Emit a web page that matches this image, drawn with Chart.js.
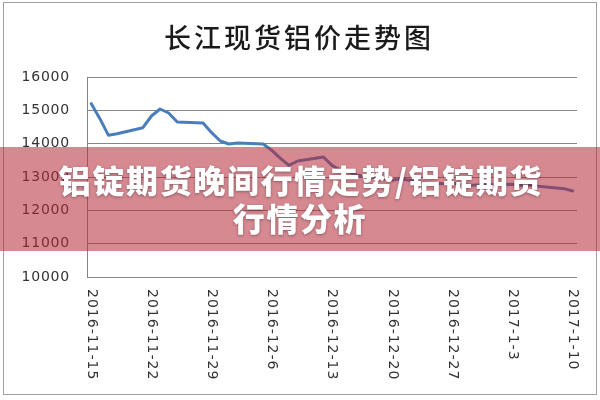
<!DOCTYPE html>
<html>
<head>
<meta charset="utf-8">
<script src="https://cdn.jsdelivr.net/npm/chart.js@4/dist/chart.umd.min.js"></script>
<style>
html,body{margin:0;padding:0;background:#fff;}
canvas{display:block;}
</style>
</head>
<body>
<canvas id="c" width="600" height="400"></canvas>
<script>
const chartTitle = "长江现货铝价走势图";
const bannerLines = ["铝锭期货晚间行情走势/铝锭期货", "行情分析"];
const startDate = "2016-11-15";
const endDate = "2017-1-10";
const tradeDates = [
  "2016-11-15","2016-11-16","2016-11-17","2016-11-18",
  "2016-11-21","2016-11-22","2016-11-23","2016-11-24","2016-11-25",
  "2016-11-28","2016-11-29","2016-11-30","2016-12-1","2016-12-2",
  "2016-12-5","2016-12-6","2016-12-7","2016-12-8","2016-12-9",
  "2016-12-12","2016-12-13","2016-12-14","2016-12-15","2016-12-16",
  "2016-12-19","2016-12-20","2016-12-21","2016-12-22","2016-12-23",
  "2016-12-26","2016-12-27","2016-12-28","2016-12-29","2016-12-30",
  "2017-1-3","2017-1-4","2017-1-5","2017-1-6",
  "2017-1-9","2017-1-10"
];
const prices = [
  15200,14750,14250,14300,
  14480,14830,15040,14920,14650,
  14620,14330,14080,13990,14020,
  13990,13800,13560,13350,13480,
  13600,13350,13200,13150,13050,
  12950,12900,12950,12900,12850,
  12800,12820,12780,12750,12760,
  12780,12750,12760,12720,
  12650,12580
];
const yMin = 10000, yMax = 16000, yStep = 1000;
const labelEvery = 7;

// build calendar-day category labels
function parseD(s){ const p = s.split("-").map(Number); return new Date(Date.UTC(p[0], p[1]-1, p[2])); }
function fmtD(d){ return d.getUTCFullYear()+"-"+(d.getUTCMonth()+1)+"-"+d.getUTCDate(); }
const allDays = [];
for (let d = parseD(startDate); d <= parseD(endDate); d = new Date(d.getTime()+86400000)) allDays.push(fmtD(d));
const series = allDays.map(day => { const i = tradeDates.indexOf(day); return i >= 0 ? prices[i] : null; });

const decor = {
  id: "decor",
  beforeDraw(chart){
    const ctx = chart.ctx;
    ctx.save();
    ctx.fillStyle = "#fff";
    ctx.fillRect(0,0,chart.width,chart.height);
    ctx.restore();
    ctx.letterSpacing = "0.8px";
  },
  afterDraw(chart){
    const ctx = chart.ctx;
    const xs = chart.scales.x;
    ctx.save();
    // title
    ctx.fillStyle = "#1a1a1a";
    ctx.font = '500 27px "Noto Sans CJK SC"';
    ctx.textAlign = "center";
    ctx.textBaseline = "middle";
    ctx.letterSpacing = "3px";
    ctx.fillText(chartTitle, 299, 38);
    // rotated date labels
    ctx.font = '14px "DejaVu Sans"';
    ctx.fillStyle = "#333";
    ctx.letterSpacing = "1px";
    ctx.textAlign = "left";
    ctx.textBaseline = "middle";
    allDays.forEach((lab, i) => {
      if (i % labelEvery !== 0) return;
      const x = xs.getPixelForValue(i);
      ctx.save();
      ctx.translate(x, chart.chartArea.bottom + 12);
      ctx.rotate(Math.PI/2);
      ctx.fillText(lab, 0, 0);
      ctx.restore();
    });
    ctx.letterSpacing = "0px";
    // outer frame
    ctx.strokeStyle = "#a0a0a0";
    ctx.lineWidth = 1;
    ctx.strokeRect(3.5, 2.5, 593, 392);
    // banner overlay
    ctx.fillStyle = "rgba(180,40,55,0.55)";
    ctx.fillRect(0, 147, 600, 104);
    ctx.font = '900 32px "Noto Sans CJK SC"';
    ctx.textAlign = "center";
    ctx.textBaseline = "middle";
    ctx.fillStyle = "#fff";
    ctx.shadowColor = "rgba(0,0,0,0.35)";
    ctx.shadowBlur = 3;
    ctx.shadowOffsetY = 1;
    ctx.letterSpacing = "1.6px";
    ctx.fillText(bannerLines[0], 301, 181);
    ctx.fillText(bannerLines[1], 300, 219);
    ctx.restore();
  }
};

new Chart(document.getElementById("c"), {
  type: "line",
  data: {
    labels: allDays,
    datasets: [{
      data: series,
      borderColor: "#4a7ebb",
      borderWidth: 3,
      pointRadius: 0,
      tension: 0,
      spanGaps: true,
      borderJoinStyle: "round",
      borderCapStyle: "round"
    }]
  },
  options: {
    responsive: false,
    animation: false,
    devicePixelRatio: 1,
    layout: { padding: { top: 77, right: 23, left: 0, bottom: 0 } },
    plugins: { legend: { display: false }, title: { display: false }, tooltip: { enabled: false } },
    scales: {
      x: {
        type: "category",
        offset: true,
        grid: { display: false },
        border: { display: false },
        ticks: { display: false },
        afterFit(s){ s.height = 123; }
      },
      y: {
        min: yMin, max: yMax,
        ticks: { stepSize: yStep, color: "#333", font: { family: "DejaVu Sans", size: 14 }, padding: 17,
                 callback: v => String(v) },
        grid: { color: "#868686", lineWidth: 1, drawTicks: false },
        border: { display: true, color: "#868686", width: 1 },
        afterFit(s){ s.width = 87; }
      }
    }
  },
  plugins: [decor]
});
</script>
</body>
</html>
